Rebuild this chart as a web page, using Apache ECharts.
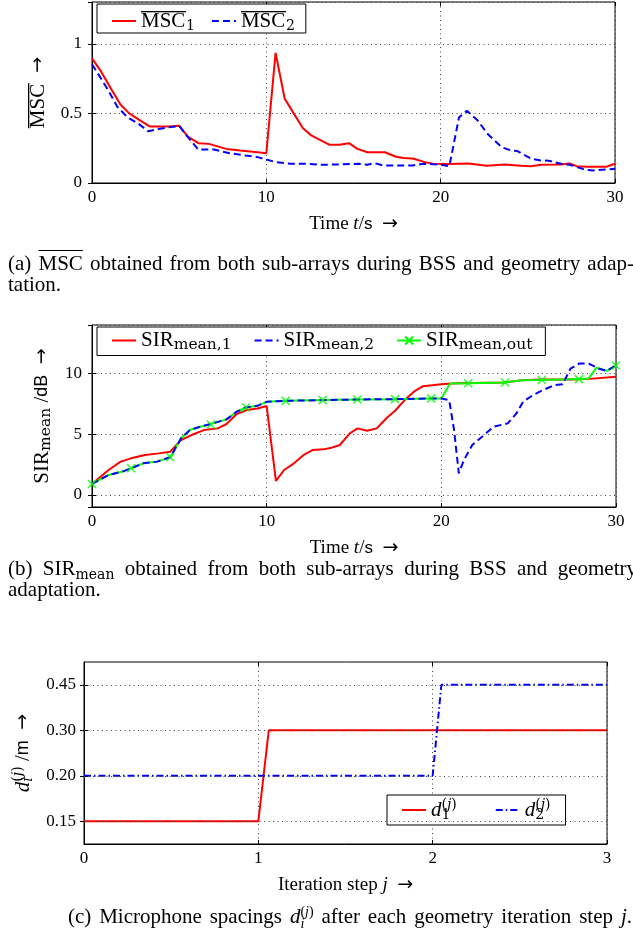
<!DOCTYPE html>
<html><head><meta charset="utf-8">
<script src="https://cdn.jsdelivr.net/npm/echarts@6/dist/echarts.min.js"></script>
<style>
html,body{margin:0;padding:0;background:#fff;overflow:hidden;}
#chart{position:absolute;left:0;top:0;width:633px;height:940px;}
.cap{position:absolute;font-family:'Liberation Serif','Times New Roman',serif;font-size:21px;color:#000;line-height:21px;}
.j{text-align:justify;text-align-last:justify;}
.ol{text-decoration:overline;text-decoration-thickness:1px;}
.sb{font-size:14px;vertical-align:-4px;line-height:0;font-family:'DejaVu Serif',serif;}
.stk{display:inline-block;font-size:14px;line-height:12px;vertical-align:-5px;text-align:left;}
</style></head><body>
<div id="chart"></div>
<div class="cap" style="left:8px;top:253px;">
  <div class="j" style="width:626px">(a) <span class="ol">MSC</span> obtained from both sub-arrays during BSS and geometry adap-</div>
  <div>tation.</div>
</div>
<div class="cap" style="left:8px;top:558px;">
  <div class="j" style="width:629px">(b) SIR<span class="sb">mean</span> obtained from both sub-arrays during BSS and geometry</div>
  <div>adaptation.</div>
</div>
<div class="cap j" style="left:68px;width:564px;top:906px;">(c) Microphone spacings <i>d</i><span class="stk">(<i>j</i>)<br><i>i</i></span> after each geometry iteration step <i>j</i>.</div>
<script>
// ---------------- data ----------------
const timeTicks = [0, 10, 20, 30];
const msc1 = [[0,0.895],[0.5,0.805],[1.05,0.686],[1.64,0.562],[2.14,0.5],[2.73,0.452],[3.33,0.405],[4.4,0.405],[5.0,0.412],[5.5,0.333],[6.1,0.286],[6.7,0.281],[7.7,0.245],[8.5,0.233],[9.5,0.221],[10.0,0.214],[10.53,0.935],[11.05,0.607],[11.56,0.502],[12.09,0.395],[12.6,0.340],[13.16,0.305],[13.63,0.274],[14.19,0.274],[14.74,0.286],[15.23,0.245],[15.8,0.221],[16.8,0.221],[17.4,0.19],[17.85,0.179],[18.4,0.176],[19.1,0.150],[19.55,0.138],[20.5,0.136],[21.6,0.140],[22.65,0.124],[23.7,0.133],[24.6,0.124],[25.2,0.121],[25.75,0.131],[26.9,0.133],[27.4,0.140],[27.8,0.121],[28.4,0.117],[29.5,0.117],[30,0.138]];
const msc2 = [[0,0.852],[0.46,0.762],[0.95,0.662],[1.45,0.548],[2.04,0.471],[2.63,0.429],[3.23,0.371],[3.82,0.388],[4.4,0.4],[5.0,0.41],[5.5,0.329],[6.1,0.240],[7.0,0.240],[7.9,0.214],[8.8,0.198],[9.5,0.186],[10.0,0.169],[10.53,0.150],[11.37,0.138],[12.31,0.138],[13.25,0.131],[14.19,0.133],[15.3,0.138],[15.8,0.131],[16.2,0.143],[16.7,0.126],[17.6,0.126],[18.4,0.126],[19.0,0.138],[19.9,0.133],[20.5,0.121],[21.05,0.471],[21.5,0.519],[22.1,0.452],[22.7,0.352],[23.5,0.257],[24.06,0.233],[24.4,0.229],[25.2,0.174],[25.75,0.162],[26.2,0.160],[26.9,0.138],[27.4,0.131],[28.3,0.095],[28.76,0.090],[29.5,0.098],[30,0.102]];
const sir1 = [[0,0.9],[0.95,2.05],[1.64,2.74],[2.24,3.01],[3.03,3.29],[3.82,3.42],[4.48,3.56],[5.1,4.52],[5.7,4.93],[6.4,5.34],[7.2,5.48],[7.7,5.84],[8.28,6.66],[8.87,6.99],[9.47,7.12],[10,7.32],[10.53,1.15],[11.0,2.05],[11.56,2.60],[12.12,3.29],[12.65,3.70],[13.25,3.75],[13.72,3.89],[14.19,4.11],[14.76,5.07],[15.2,5.48],[15.75,5.29],[16.3,5.48],[16.9,6.38],[17.35,6.93],[17.9,7.81],[18.5,8.58],[18.95,8.96],[20,9.12],[20.64,9.18],[21.6,9.23],[23.6,9.26],[24.6,9.45],[25.7,9.51],[27.6,9.51],[28.5,9.56],[30,9.73]];
const sir2 = [[0,0.9],[0.95,1.64],[1.74,1.92],[2.24,2.19],[2.93,2.60],[3.72,2.74],[4.48,3.10],[5.1,4.66],[5.6,5.34],[6.2,5.62],[6.8,5.84],[7.7,6.22],[8.28,6.85],[8.8,7.21],[9.47,7.34],[10,7.67],[11.1,7.75],[13.25,7.81],[15.2,7.86],[17.35,7.89],[19.4,7.95],[20,7.95],[20.45,7.81],[20.73,5.34],[21.0,1.78],[21.3,2.88],[21.77,4.11],[22.33,4.79],[23.0,5.62],[23.8,5.89],[24.3,6.71],[24.68,7.67],[25.24,8.22],[25.8,8.63],[26.47,9.04],[26.94,9.12],[27.4,10.41],[27.88,10.82],[28.44,10.82],[29.0,10.41],[29.47,10.22],[30,10.68]];
const sirOut = [[0,0.9],[0.95,1.64],[1.74,1.92],[2.24,2.19],[2.93,2.60],[3.72,2.74],[4.48,3.10],[5.1,4.66],[5.6,5.34],[6.2,5.62],[6.8,5.84],[7.7,6.22],[8.28,6.85],[8.8,7.21],[9.47,7.34],[10,7.67],[11.1,7.75],[13.25,7.81],[15.2,7.86],[17.35,7.89],[19.4,7.95],[20,7.95],[20.5,9.18],[21.54,9.2],[23.65,9.26],[24.6,9.45],[25.75,9.47],[27.88,9.54],[28.44,9.59],[28.87,10.47],[29.47,10.22],[30,10.66]];
const sirOutMarks = [[0,0.9],[2.24,2.19],[4.48,3.10],[6.8,5.8],[8.81,7.2],[11.09,7.75],[13.21,7.81],[15.19,7.86],[17.35,7.89],[19.42,7.95],[21.54,9.2],[23.65,9.26],[25.75,9.47],[27.88,9.54],[30,10.66]];
const iterTicks = [0, 1, 2, 3];
const spacingTicks = ['0.15', '0.20', '0.30', '0.45'];
const d1 = [[0,0.15],[1,0.15],[1.06,0.30],[3,0.30]];
const d2 = [[0,0.20],[2,0.20],[2.05,0.45],[3,0.45]];

// ---------------- styles ----------------
const SERIF = "'Liberation Serif', serif";
const WSERIF = "'DejaVu Serif', serif";
const SANS = "'Liberation Sans', sans-serif";
const ARROW = "'DejaVu Sans', sans-serif";
const ctx = document.createElement('canvas').getContext('2d');
ctx.font = "21px 'Liberation Serif'";
const mscW = Math.ceil(ctx.measureText('MSC').width);
// overline drawn as the background image of the "MSC" text box
const olImg = document.createElement('canvas');
olImg.width = mscW; olImg.height = 22;
(function () { const g = olImg.getContext('2d'); g.fillStyle = '#000'; g.fillRect(0, 1, mscW, 1.3); })();

const rich = {
  n: {fontFamily: SERIF, fontSize: 21, color: '#000', lineHeight: 24, align: 'left'},
  ol: {fontFamily: SERIF, fontSize: 21, color: '#000', lineHeight: 24, height: 22, width: mscW,
       backgroundColor: {image: olImg}, align: 'left'},
  t: {fontFamily: SERIF, fontSize: 19, color: '#000', lineHeight: 24, align: 'left'},
  it: {fontFamily: SERIF, fontSize: 21, fontStyle: 'italic', color: '#000', lineHeight: 24, align: 'left'},
  ti: {fontFamily: SERIF, fontSize: 19, fontStyle: 'italic', color: '#000', lineHeight: 24, align: 'left'},
  ar: {fontFamily: ARROW, fontSize: 19, color: '#000', lineHeight: 24, align: 'left'},
  s: {fontFamily: WSERIF, fontSize: 15.5, color: '#000', verticalAlign: 'bottom', align: 'left'},
  sm: {fontFamily: WSERIF, fontSize: 14, color: '#000', verticalAlign: 'bottom', align: 'left'},
  sb: {fontFamily: WSERIF, fontSize: 14, color: '#000', verticalAlign: 'bottom', width: 0.01, align: 'left'},
  sbi: {fontFamily: WSERIF, fontSize: 14, fontStyle: 'italic', color: '#000', verticalAlign: 'bottom', width: 0.01, align: 'left'},
  sup: {fontFamily: WSERIF, fontSize: 14, color: '#000', verticalAlign: 'top', align: 'left'},
  supi: {fontFamily: WSERIF, fontSize: 14, fontStyle: 'italic', color: '#000', verticalAlign: 'top', align: 'left'},
  sf: {fontFamily: SANS, fontSize: 18, color: '#000', lineHeight: 24, align: 'left'},
  sft: {fontFamily: SANS, fontSize: 17, color: '#000', lineHeight: 24, align: 'left'}
};
const legendText = {
  MSC1: '{ol|MSC}{sm|1}',
  MSC2: '{ol|MSC}{sm|2}',
  SIR1: '{n|SIR}{s|mean,1}',
  SIR2: '{n|SIR}{s|mean,2}',
  SIROUT: '{n|SIR}{s|mean,out}',
  d1: '{it|d}{sb|1}{sup|(}{supi|j}{sup|)}',
  d2: '{it|d}{sb|2}{sup|(}{supi|j}{sup|)}'
};
const gridLine = {show: true, lineStyle: {color: '#444', width: 1, type: [1, 3.5]}};
const tickIn = {show: true, inside: true, length: 4, lineStyle: {color: '#000', width: 1}};
const axLine = {show: true, onZero: false, lineStyle: {color: '#000', width: 1}};
const lbl = (m) => ({fontFamily: SERIF, fontSize: 17, color: '#000', margin: m});
const noSym = {opacity: 0};
const legendBase = {
  orient: 'horizontal', selectedMode: false, backgroundColor: '#fff',
  borderColor: '#000', borderWidth: 1, borderRadius: 0,
  itemWidth: 24, itemHeight: 10, itemGap: 16,
  textStyle: {fontFamily: SERIF, fontSize: 21, color: '#000', rich: rich},
  formatter: (name) => legendText[name]
};
const X = 'path://M0,0L10,10M10,0L0,10';

function xBottom(g, min, max, iv, name, gap) {
  return {gridIndex: g, type: 'value', min: min, max: max, interval: iv,
    axisLine: axLine, axisTick: tickIn, axisLabel: lbl(6), splitLine: gridLine,
    name: name, nameLocation: 'middle', nameGap: gap, nameTextStyle: {rich: rich}};
}
function xTop(g, min, max, iv) {
  return {gridIndex: g, type: 'value', position: 'top', min: min, max: max, interval: iv,
    axisLine: {show: false, onZero: false}, axisTick: tickIn, axisLabel: {show: false}, splitLine: {show: false}};
}
const timeName = '{t|Time }{ti|t}{t|/}{sft|s}{t|  }{ar|→}';

const option = {
  animation: false,
  backgroundColor: '#fff',
  grid: [
    {left: 92, top: 2, width: 523, height: 181, show: true, borderColor: '#000', borderWidth: 1},
    {left: 92, top: 325, width: 524, height: 182, show: true, borderColor: '#000', borderWidth: 1},
    {left: 84, top: 662, width: 523, height: 182, show: true, borderColor: '#000', borderWidth: 1}
  ],
  legend: [
    Object.assign({}, legendBase, {data: [{name: 'MSC1', itemStyle: noSym}, {name: 'MSC2', itemStyle: noSym}],
      left: 97, top: 4, padding: [6, 11, 0, 14]}),
    Object.assign({}, legendBase, {data: [{name: 'SIR1', itemStyle: noSym}, {name: 'SIR2', itemStyle: noSym}, {name: 'SIROUT'}],
      left: 97, top: 327, padding: [3, 13, 3, 14], itemGap: 22}),
    Object.assign({}, legendBase, {data: [{name: 'd1', itemStyle: noSym}, {name: 'd2', itemStyle: noSym}],
      left: 387, top: 795, padding: [3, 15, 3, 14], itemGap: 38})
  ],
  xAxis: [
    xBottom(0, timeTicks[0], timeTicks[3], 10, timeName, 29),
    xBottom(1, timeTicks[0], timeTicks[3], 10, timeName, 29),
    xBottom(2, iterTicks[0], iterTicks[3], 1, '{t|Iteration step }{ti|j}{t|  }{ar|→}', 29),
    xTop(0, timeTicks[0], timeTicks[3], 10),
    xTop(1, timeTicks[0], timeTicks[3], 10),
    xTop(2, iterTicks[0], iterTicks[3], 1)
  ],
  yAxis: [
    {gridIndex: 0, type: 'value', min: 0, max: 1.3, interval: 0.5,
     axisLine: axLine, axisTick: tickIn, axisLabel: Object.assign(lbl(10), {showMaxLabel: false}), splitLine: gridLine,
     name: '{ol|MSC}{n|  }{ar|→}', nameLocation: 'middle', nameRotate: 90, nameGap: 42, nameTextStyle: {rich: rich}},
    {gridIndex: 1, type: 'value', min: -1, max: 14, splitNumber: 3,
     axisLine: axLine, axisTick: tickIn, axisLabel: Object.assign(lbl(10), {showMinLabel: false, showMaxLabel: false}), splitLine: gridLine,
     name: '{n|SIR}{s|mean}{n| /}{sf|dB}{n|  }{ar|→}', nameLocation: 'middle', nameRotate: 90, nameGap: 36, nameTextStyle: {rich: rich}},
    {gridIndex: 2, type: 'category', data: spacingTicks, boundaryGap: true,
     axisLine: axLine, axisTick: Object.assign({}, tickIn, {alignWithLabel: true}), axisLabel: lbl(8), splitLine: {show: false},
     name: '{it|d}{sbi|i}{sup|(}{supi|j}{sup|)}{n| /}{sf|m}{n|  }{ar|→}', nameLocation: 'middle', nameRotate: 90, nameGap: 39, nameTextStyle: {rich: rich}},
    {gridIndex: 0, type: 'value', position: 'right', min: 0, max: 1.3, interval: 0.5,
     axisLine: {show: false}, axisTick: tickIn, axisLabel: {show: false}, splitLine: {show: false}},
    {gridIndex: 1, type: 'value', position: 'right', min: -1, max: 14, splitNumber: 3,
     axisLine: {show: false}, axisTick: tickIn, axisLabel: {show: false}, splitLine: {show: false}},
    {gridIndex: 2, type: 'category', position: 'right', data: spacingTicks, boundaryGap: true,
     axisLine: {show: false}, axisTick: Object.assign({}, tickIn, {alignWithLabel: true}), axisLabel: {show: false}, splitLine: {show: false}}
  ],
  series: [
    {name: 'MSC1', type: 'line', xAxisIndex: 0, yAxisIndex: 0, data: msc1, symbol: 'none', z: 3,
     lineStyle: {color: '#ff0000', width: 2}, itemStyle: {color: '#ff0000'}},
    {name: 'MSC2', type: 'line', xAxisIndex: 0, yAxisIndex: 0, data: msc2, symbol: 'none', z: 4,
     lineStyle: {color: '#0000ff', width: 2, type: [7, 4]}, itemStyle: {color: '#0000ff'}},
    {name: 'SIR1', type: 'line', xAxisIndex: 1, yAxisIndex: 1, data: sir1, symbol: 'none', z: 3,
     lineStyle: {color: '#ff0000', width: 2}, itemStyle: {color: '#ff0000'}},
    {name: 'SIROUT', type: 'line', xAxisIndex: 1, yAxisIndex: 1, data: sirOut, symbol: X, symbolSize: 8, showSymbol: false, z: 4,
     lineStyle: {color: '#00ff00', width: 2}, itemStyle: {color: '#00ff00', borderColor: '#00ff00', borderWidth: 1.6}},
    {name: 'SIR2', type: 'line', xAxisIndex: 1, yAxisIndex: 1, data: sir2, symbol: 'none', z: 5,
     lineStyle: {color: '#0000ff', width: 2, type: [7, 4]}, itemStyle: {color: '#0000ff'}},
    {name: 'SIROUT markers', type: 'scatter', xAxisIndex: 1, yAxisIndex: 1, data: sirOutMarks, symbol: X, symbolSize: 8, z: 6,
     itemStyle: {color: '#00ff00', borderColor: '#00ff00', borderWidth: 1.6}},
    {name: 'd1', type: 'line', xAxisIndex: 2, yAxisIndex: 2, symbol: 'none', z: 3,
     data: d1.map(p => [p[0], spacingTicks.indexOf(p[1].toFixed(2))]),
     lineStyle: {color: '#ff0000', width: 2}, itemStyle: {color: '#ff0000'},
     markLine: {silent: true, symbol: ['none', 'none'], label: {show: false}, animation: false,
       lineStyle: {color: '#444', width: 1, type: [1, 3.5]},
       data: spacingTicks.map(t => ({yAxis: t}))}},
    {name: 'd2', type: 'line', xAxisIndex: 2, yAxisIndex: 2, symbol: 'none', z: 4,
     data: d2.map(p => [p[0], spacingTicks.indexOf(p[1].toFixed(2))]),
     lineStyle: {color: '#0000ff', width: 2, type: [7, 3, 1.5, 3]}, itemStyle: {color: '#0000ff'}}
  ]
};
const chart = echarts.init(document.getElementById('chart'), null, {renderer: 'canvas'});
chart.setOption(option);
</script>
</body></html>
